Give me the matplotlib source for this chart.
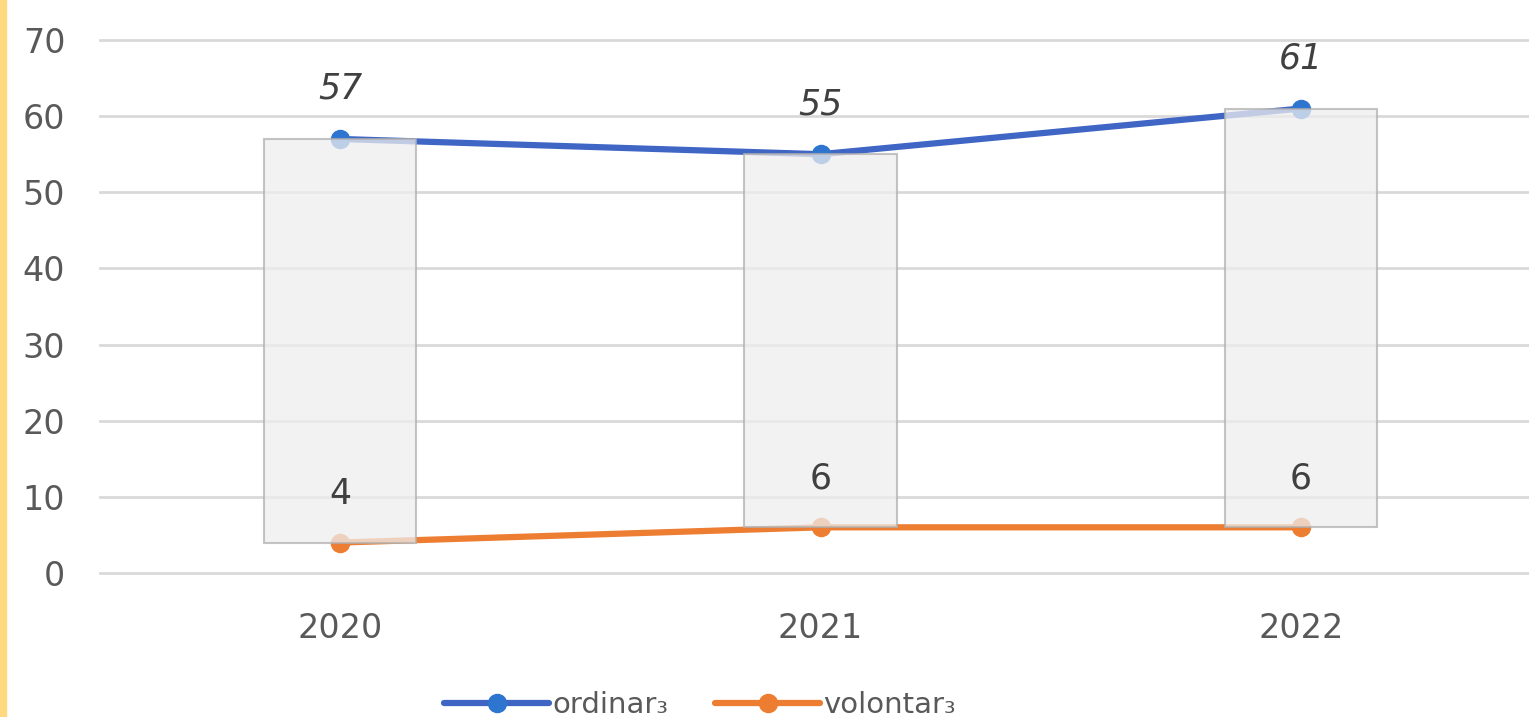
import matplotlib.pyplot as plt
from matplotlib.patches import Rectangle

years = ['2020', '2021', '2022']
ordinar = [57, 55, 61]
volontar = [4, 6, 6]
legend_labels = ['ordinar₃', 'volontar₃']

blue = '#3f66c4'
orange = '#ed7d31'
grey_text = '#595959'

fig = plt.figure(figsize=(15.29, 7.17), dpi=100)
ax = fig.add_axes([100 / 1529, 1 - 573 / 717, 1441 / 1529, 533 / 717])

x = list(range(len(years)))

ax.plot(x, ordinar, color=blue, lw=4.5, marker='o', ms=13, mfc='#2e75d0', mec='#2e75d0',
        label=legend_labels[0], zorder=3, solid_capstyle='round')
ax.plot(x, volontar, color=orange, lw=4.5, marker='o', ms=13, mfc=orange, mec=orange,
        label=legend_labels[1], zorder=3, solid_capstyle='round')

# up/down bars between the two series, drawn over the lines like in excel
lows = [min(a, b) for a, b in zip(ordinar, volontar)]
heights = [abs(a - b) for a, b in zip(ordinar, volontar)]
ax.bar(x, heights, bottom=lows, width=0.317, color='#eeeeee', alpha=0.75,
       edgecolor='#b0b0b0', linewidth=1.5, zorder=4)

for xi, v in zip(x, ordinar):
    ax.annotate(str(v), (xi, v), xytext=(0, 36), textcoords='offset points',
                ha='center', va='center', fontsize=25, color='#404040', style='italic', zorder=5)
for xi, v in zip(x, volontar):
    ax.annotate(str(v), (xi, v), xytext=(0, 35), textcoords='offset points',
                ha='center', va='center', fontsize=25, color='#404040', zorder=5)

ax.set_ylim(0, 70)
ax.set_yticks(range(0, 71, 10))
ax.set_xlim(-0.5, 2.5)
ax.set_xticks(x)
ax.set_xticklabels(years)
ax.grid(axis='y', color='#d9d9d9', lw=2)
for gl in ax.get_ygridlines():
    gl.set_clip_on(False)
ax.set_axisbelow(True)
for s in ax.spines.values():
    s.set_visible(False)
ax.tick_params(length=0, labelsize=24, labelcolor=grey_text)
ax.tick_params(axis='y', pad=25)
ax.tick_params(axis='x', pad=28)

fig.legend(loc='center', bbox_to_anchor=(700 / 1529, 1 - 705 / 717), ncol=2, frameon=False,
           fontsize=21, labelcolor=grey_text, handlelength=3.6, columnspacing=1.6,
           handletextpad=0.1)

fig.patches.append(Rectangle((0, 0), 6 / 1529, 1, transform=fig.transFigure,
                             color='#ffd97f', zorder=10))

fig.savefig('out.png', dpi=100)
